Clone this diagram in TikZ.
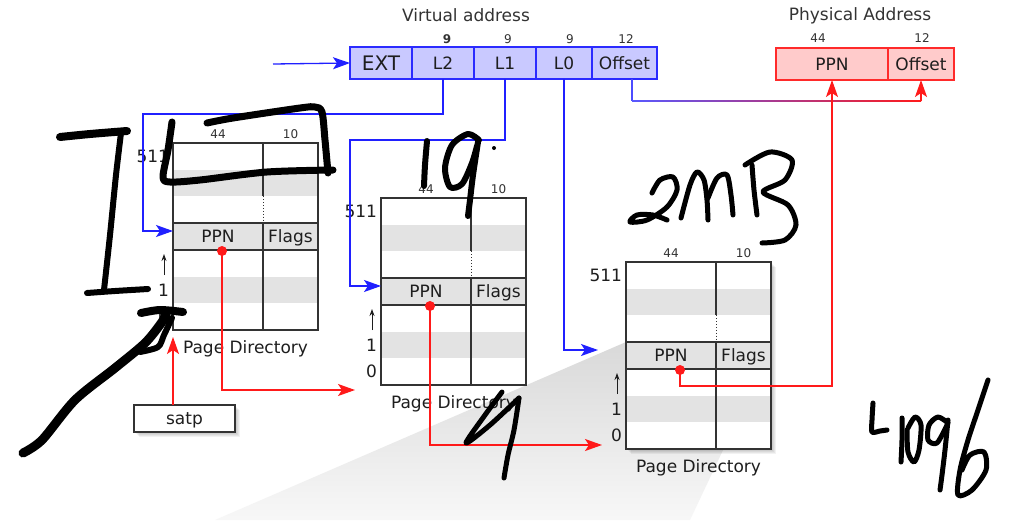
\documentclass[tikz,border=0pt]{standalone}
\usepackage{fontspec}
\setmainfont{DejaVu Sans}
\usetikzlibrary{arrows.meta,calc}

\newcommand\pxsize[1]{\fontsize{#1}{#1}\selectfont}

\definecolor{vafill}{HTML}{C9C9FF}
\definecolor{vaedge}{HTML}{2B2BFF}
\definecolor{pafill}{HTML}{FFCBCB}
\definecolor{paedge}{HTML}{FF2A2A}
\definecolor{rowgrey}{HTML}{E3E3E3}
\definecolor{frame}{HTML}{333333}
\definecolor{ink}{HTML}{1E1E1E}
\definecolor{bwire}{HTML}{2020FF}
\definecolor{rwire}{HTML}{FF1A1A}

% soft drop shadow built from a few offset translucent rectangles
\newcommand\softshadow[4]{%
  \foreach \k in {1,...,5}
    \fill[black, opacity=0.05] (#1+\k,#2+\k) rectangle (#3+\k,#4+\k);}

% one page-directory table: name, left x, top y, x of the PPN dot (local)
\newcommand\pagedir[4]{%
  \begin{scope}[shift={(#2,#3)}]
    \fill[white] (0,0) rectangle (145,187);
    \foreach \k in {1,3,5}
      \fill[rowgrey] (0,{\k*26.714}) rectangle (145,{(\k+1)*26.714});
    \draw[frameline] (0,80.14) -- (145,80.14) (0,106.86) -- (145,106.86);
    \draw[frameline] (90,0) -- (90,53.43) (90,80.14) -- (90,187);
    \draw[frame, dotted, line width=0.9pt] (90,53.43) -- (90,80.14);
    \node[draw=frame, line width=1.6pt, minimum width=145pt, minimum height=187pt] (#1) at (72.5,93.5) {};
    \node[bits] at (45,-9) {44};
    \node[bits] at (117.5,-9) {10};
    \node[txt, anchor=east] at (-4,13.4) {511};
    \draw[ink, line width=0.9pt, -{Stealth[length=7pt,width=5pt]}] (-9,132) -- (-9,111);
    \node[txt, anchor=east] at (-4,146.9) {1};
    \node[txt, anchor=east] at (-4,173.6) {0};
    \node[txt] at (45,93.5) {PPN};
    \node[txt] at (117.5,93.5) {Flags};
    \node[font=\pxsize{17}, anchor=base] at (72.5,210) {Page Directory};
    \coordinate (#1-in) at (0,88);
    \coordinate (#1-gap) at (-28,88);
    \coordinate (#1-root) at (0,194);
    \coordinate (#1-dot) at (#4,108);
  \end{scope}}

\begin{document}
\begin{tikzpicture}[x=1pt,y=-1pt,
  every node/.style={inner sep=0pt, outer sep=0pt, text=ink},
  txt/.style={font=\pxsize{17}, text height=12.4pt, text depth=0pt},
  bits/.style={font=\pxsize{12}, text height=8.7pt, text depth=0pt, text=frame},
  vacell/.style={txt, draw=vaedge, fill=vafill, line width=1.3pt, minimum height=32pt},
  pacell/.style={txt, draw=paedge, fill=pafill, line width=1.3pt, minimum height=32pt},
  frameline/.style={frame, line width=1.6pt},
  bigtip/.style={-{Stealth[length=17pt,width=12pt,inset=4pt]}},
  blueconn/.style={bwire, line width=1.3pt, bigtip},
  redconn/.style={rwire, line width=1.3pt, bigtip},
  hand/.style={black, line width=6pt, line cap=round, line join=round}]

\useasboundingbox (0,0) rectangle (1017,520);
\fill[white] (0,0) rectangle (1017,520);

% fan from the last table's PPN row down to the lower edge
\shade[top color=black!15, bottom color=black!3]
  (626,342) -- (760,342) -- (760,448) -- (724,448) -- (690,520) -- (215,520) -- cycle;

% shadows
\softshadow{626}{262}{771}{449}
\softshadow{134}{405}{235}{432}

% the three levels of the page table
\pagedir{pd1}{173}{143}{49}
\pagedir{pd2}{381}{198}{49}
\pagedir{pd3}{626}{262}{54}

\node[txt, draw=frame, line width=1.6pt, fill=white, minimum width=101pt, minimum height=27pt] (satp) at (184.5,418.5) {satp};

% virtual address fields
\node[font=\pxsize{17}, anchor=base, text=frame] at (466,21) {Virtual address};
\node[vacell, minimum width=62pt, font=\pxsize{20}, text height=14.6pt] (ext) at (381,63) {EXT};
\node[vacell, minimum width=62pt] (l2) at (443,63) {L2};
\node[vacell, minimum width=62pt] (l1) at (505,63) {L1};
\node[vacell, minimum width=56pt] (l0) at (564,63) {L0};
\node[vacell, minimum width=65pt] (voff) at (624.5,63) {Offset};
\node[bits, font=\pxsize{12}\bfseries] at (447,39) {9};
\node[bits] at (508,39) {9};
\node[bits] at (570,39) {9};
\node[bits] at (626,39) {12};

% physical address fields
\node[font=\pxsize{17}, anchor=base, text=frame] at (860,20) {Physical Address};
\node[pacell, minimum width=112pt] (ppn) at (832,64) {PPN};
\node[pacell, minimum width=66pt] (poff) at (921,64) {Offset};
\node[bits] at (818,38) {44};
\node[bits] at (922,38) {12};

% index connectors
\coordinate (vin) at (273,64);
\coordinate (bendA) at (143,114);
\coordinate (bendB) at (350,140);
\draw[blueconn] (vin) -- (ext.west);
\draw[blueconn] (l2.south) |- (bendA) |- (pd1-in);
\draw[blueconn] (l1.south) |- (bendB) |- (pd2-in);
\draw[blueconn] (l0.south) |- (pd3-gap);

% offset passes straight through
\coordinate (ofsdown) at ($(voff.south)+(7.5,0)$);
\coordinate (ofsturn) at ($(voff.south)+(7.5,22)$);
\draw[bwire!80, line width=1.3pt] (ofsdown) -- (ofsturn);
\shade[left color=bwire!75, right color=rwire] (ofsturn) ++(0,-0.65) rectangle ($(poff.south |- ofsturn)+(0,0.65)$);
\draw[redconn] (poff.south |- ofsturn) -- (poff.south);

% page-number connectors
\coordinate (pd2-entry) at ($(pd2.south west)+(-26,5)$);
\coordinate (pd3-entry) at ($(pd3.south west)+(-24,-4)$);
\draw[redconn] (pd1-root |- satp.north) -- (pd1-root);
\draw[redconn] (pd1-dot) |- (pd2-entry);
\draw[redconn] (pd2-dot) |- (pd3-entry);
\draw[redconn] (pd3-dot) -- ++(0,16) -| (ppn.south);
\foreach \d in {pd1-dot,pd2-dot,pd3-dot}
  \fill[rwire] (\d) circle (5);

% pen annotations
\draw[hand, line width=8pt] plot[smooth] coordinates {(60,137) (90,134) (127,131)};
\draw[hand] plot[smooth] coordinates {(121,133) (116,175) (110,235) (104,290)};
\draw[hand] plot[smooth] coordinates {(87,293) (115,291) (148,289)};
\draw[hand, line width=7pt] plot[smooth] coordinates {(172,122) (168,150) (163,177) (170,182) (200,180) (267,172) (333,170)};
\draw[hand, line width=7pt] plot[smooth] coordinates {(207,123) (233,118) (300,108) (315,107) (322,112) (325,140) (328,173)};
\draw[hand, line width=9pt] plot[smooth] coordinates {(23,453) (42,440) (75,400) (115,368) (145,343) (162,322) (166,314)};
\draw[hand, line width=6pt] plot[smooth] coordinates {(140,352) (158,347) (164,335) (172,318)};
\draw[hand, line width=8pt] plot[smooth] coordinates {(141,313) (160,310) (183,312)};

\draw[hand] plot[smooth] coordinates {(427,141) (425,165) (424,186)};
\draw[hand] plot[smooth] coordinates {(479,140) (468,134) (452,145) (445,168) (450,187) (462,184) (472,163) (477,146)};
\draw[hand] plot[smooth] coordinates {(478,142) (473,175) (470,200) (468,216)};
\fill[black] (494,148) circle (2);

\draw[hand, line width=5pt] plot[smooth] coordinates {(652,193) (660,180) (673,177) (677,190) (667,207) (647,220) (630,222) (637,215) (653,215) (667,220)};
\draw[hand, line width=5pt] plot[smooth] coordinates {(681,218) (690,185) (697,172) (704,180) (707,200) (708,220)};
\draw[hand, line width=5pt] plot[smooth] coordinates {(708,198) (717,178) (727,175) (731,195) (733,215)};
\draw[hand, line width=5pt] plot[smooth] coordinates {(752,165) (754,190) (757,215)};
\draw[hand, line width=5pt] plot[smooth] coordinates {(745,165) (770,152) (792,160) (785,180) (763,192) (788,205) (796,225) (785,240) (762,243)};

\draw[hand, line width=5pt] plot[smooth] coordinates {(502,392) (485,415) (466,443) (490,425) (519,398)};
\draw[hand, line width=5pt] plot[smooth] coordinates {(519,398) (514,430) (508,455) (504,478)};

\draw[hand, line width=5pt] plot[smooth] coordinates {(873,403) (872,420) (872,432) (880,431) (887,430)};
\draw[hand, line width=5pt] plot[smooth] coordinates {(902,418) (902,440) (901,462)};
\draw[hand, line width=5pt] plot[smooth] coordinates {(908,428) (915,417) (921,425) (919,450) (914,462) (908,452) (907,430)};
\draw[hand, line width=5pt] plot[smooth] coordinates {(948,423) (938,417) (929,425) (928,440) (937,443) (947,425)};
\draw[hand, line width=5pt] plot[smooth] coordinates {(948,420) (945,450) (942,475) (940,490)};
\draw[hand, line width=5pt] plot[smooth] coordinates {(988,380) (978,410) (968,440) (960,470) (958,495) (972,490) (986,470) (984,452) (970,455) (962,470)};
\end{tikzpicture}
\end{document}
